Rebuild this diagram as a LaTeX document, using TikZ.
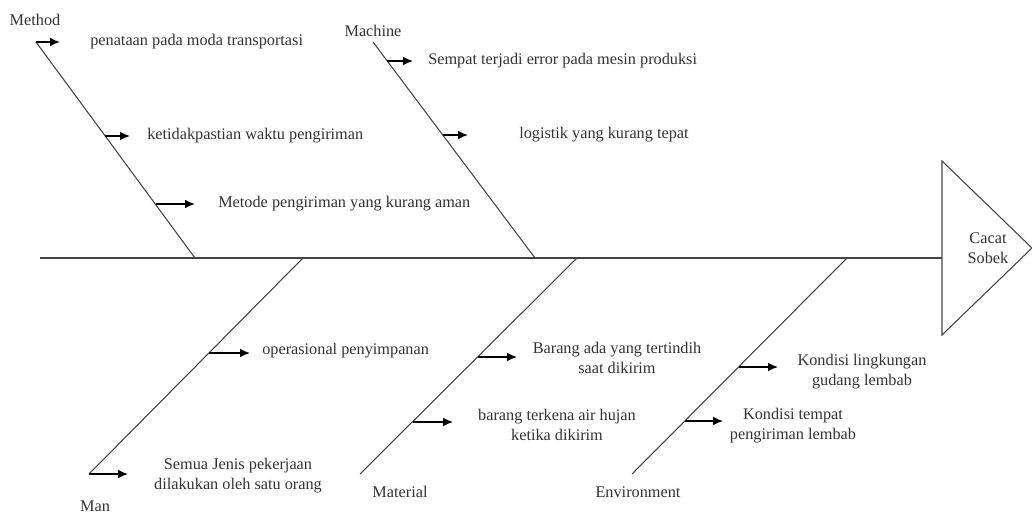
\documentclass[tikz,border=0pt]{standalone}
\usepackage{fontspec}
\setmainfont{Liberation Serif}
\usetikzlibrary{arrows.meta,positioning}

\definecolor{bonegray}{HTML}{444444}
\definecolor{txtgray}{HTML}{333333}

\begin{document}
\begin{tikzpicture}[x=0.75pt,y=-0.75pt,>={Latex[length=7.5pt,width=6.5pt]},
    bone/.style={draw=bonegray,line width=0.8pt},
    cause/.style={->,line width=0.9pt},
    lbl/.style={font=\rmfamily\fontsize{12.2}{15}\selectfont,text=txtgray,align=center,inner sep=0pt}]
    \useasboundingbox (0,0) rectangle (1032,514);

    % spine and head
    \coordinate (tail) at (40,258);
    \coordinate (head) at (942,258);
    \coordinate (H1) at (942,161);
    \coordinate (H2) at (1032,248);
    \coordinate (H3) at (942,335);
    \draw[bone] (H1) -- (H2) -- (H3) -- cycle;
    \draw[bone] (tail) -- (head);
    \node[lbl] (effect) at (988,248) {Cacat\\Sobek};

    % bones
    \coordinate (Me0) at (36,42);
    \coordinate (Me1) at (195,258);
    \coordinate (Ma0) at (373,42);
    \coordinate (Ma1) at (535,258);
    \coordinate (Mn0) at (89,474);
    \coordinate (Mn1) at (303,258);
    \coordinate (Mt0) at (360,474);
    \coordinate (Mt1) at (577,258);
    \coordinate (En0) at (632,474);
    \coordinate (En1) at (847,258);

    \foreach \a/\b in {Me0/Me1,Ma0/Ma1,Mn0/Mn1,Mt0/Mt1,En0/En1}
      \draw[bone] (\a) -- (\b);

    % cause arrows
    \coordinate (me1e) at (60,42);
    \coordinate (me2s) at (105,136);
    \coordinate (me2e) at (130,136);
    \coordinate (me3s) at (156,204);
    \coordinate (me3e) at (195,204);
    \coordinate (ma1s) at (387,61);
    \coordinate (ma1e) at (413,61);
    \coordinate (ma2s) at (443,135);
    \coordinate (ma2e) at (468,135);
    \coordinate (mn1s) at (209,353);
    \coordinate (mn1e) at (250,353);
    \coordinate (mn2e) at (128,474);
    \coordinate (mt1s) at (478,357);
    \coordinate (mt1e) at (517,357);
    \coordinate (mt2s) at (413,422);
    \coordinate (mt2e) at (453,422);
    \coordinate (en1s) at (739,367);
    \coordinate (en1e) at (778,367);
    \coordinate (en2s) at (685,421);
    \coordinate (en2e) at (723,421);

    \foreach \a/\b in {Me0/me1e,me2s/me2e,me3s/me3e,ma1s/ma1e,ma2s/ma2e,
                       mn1s/mn1e,Mn0/mn2e,mt1s/mt1e,mt2s/mt2e,en1s/en1e,en2s/en2e}
      \draw[cause] (\a) -- (\b);

    % categories
    \node[lbl] (method) at (35,20) {Method};
    \node[lbl] (machine) at (373,31) {Machine};
    \node[lbl] (man) at (95,506) {Man};
    \node[lbl] (material) at (400,492) {Material};
    \node[lbl] (environment) at (638,492) {Environment};

    % causes
    \node[lbl,anchor=west] (me1) at (90,42) {penataan pada moda transportasi};
    \node[lbl,anchor=west] (me2) at (147,136) {ketidakpastian waktu pengiriman};
    \node[lbl,anchor=west] (me3) at (218,204) {Metode pengiriman yang kurang aman};
    \node[lbl,anchor=west] (ma1) at (428,61) {Sempat terjadi error pada mesin produksi};
    \node[lbl,anchor=west] (ma2) at (519,135) {logistik yang kurang tepat};
    \node[lbl,anchor=west] (mn1) at (262,351) {operasional penyimpanan};
    \node[lbl] (mn2) at (238,476) {Semua Jenis pekerjaan\\dilakukan oleh satu orang};
    \node[lbl] (mt1) at (617,358) {Barang ada yang tertindih\\saat dikirim};
    \node[lbl] (mt2) at (557,425) {barang terkena air hujan\\ketika dikirim};
    \node[lbl] (en1) at (862,372) {Kondisi lingkungan\\gudang lembab};
    \node[lbl] (en2) at (793,426) {Kondisi tempat\\pengiriman lembab};

\end{tikzpicture}
\end{document}
